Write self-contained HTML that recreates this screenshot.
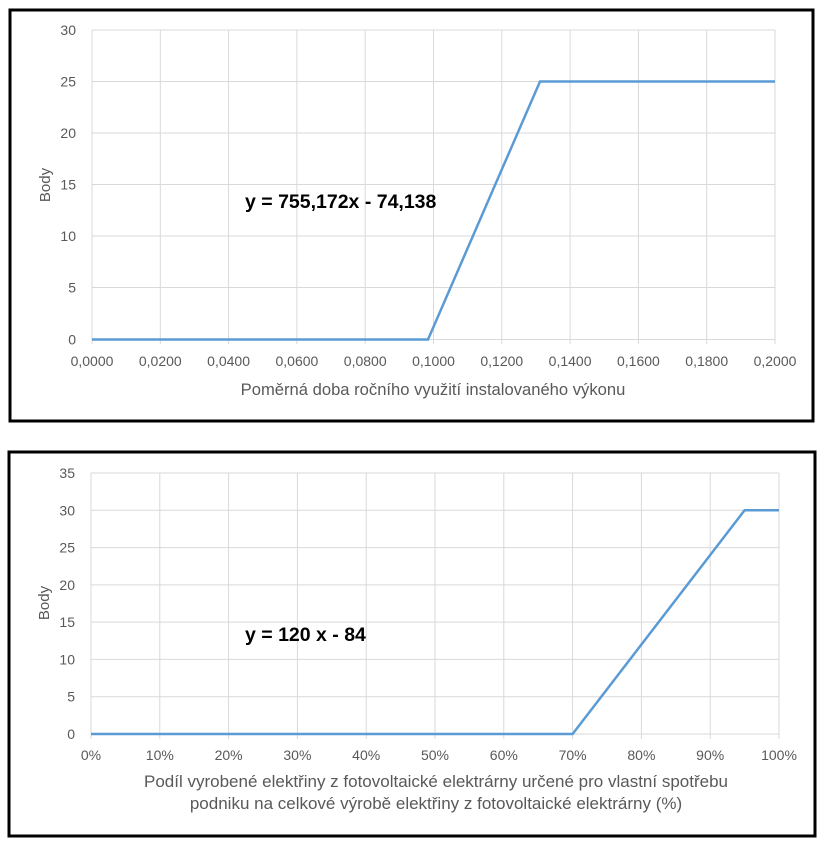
<!DOCTYPE html>
<html><head><meta charset="utf-8"><style>
body{margin:0;background:#fff;}
svg{display:block;font-family:"Liberation Sans",sans-serif;}
</style></head><body>
<svg width="822" height="843" viewBox="0 0 822 843">
<rect x="0" y="0" width="822" height="843" fill="#fff"/>
<rect x="10" y="10" width="803" height="411" fill="none" stroke="#000" stroke-width="3"/>
<rect x="9" y="452" width="806" height="384" fill="none" stroke="#000" stroke-width="3"/>
<g stroke="#d9d9d9" stroke-width="1" fill="none">
<path d="M92 30H775M92 81.5H775M92 133H775M92 184.5H775M92 236H775M92 287.5H775"/>
<path d="M92 30V344M160.3 30V344M228.6 30V344M296.9 30V344M365.2 30V344M433.5 30V344M501.8 30V344M570.1 30V344M638.4 30V344M706.7 30V344M775 30V344"/>
<path d="M92 339.5H775"/>
<path d="M91 473H779M91 510.3H779M91 547.6H779M91 584.9H779M91 622.1H779M91 659.4H779M91 696.7H779M91 734H779"/>
<path d="M91 473V739M159.8 473V739M228.6 473V739M297.4 473V739M366.2 473V739M435 473V739M503.8 473V739M572.6 473V739M641.4 473V739M710.2 473V739M779 473V739"/>
</g>
<polyline points="92,339.5 428,339.5 540,81.5 775,81.5" fill="none" stroke="#5b9bd5" stroke-width="2.5"/>
<polyline points="91,734 572.6,734 744.6,510.3 779,510.3" fill="none" stroke="#5b9bd5" stroke-width="2.5"/>
<g font-size="14" fill="#595959" text-anchor="end">
<text x="76" y="35">30</text><text x="76" y="86.5">25</text><text x="76" y="138">20</text><text x="76" y="189.5">15</text><text x="76" y="241">10</text><text x="76" y="292.5">5</text><text x="76" y="344.5">0</text>
<text x="75" y="478">35</text><text x="75" y="515.3">30</text><text x="75" y="552.6">25</text><text x="75" y="589.9">20</text><text x="75" y="627.1">15</text><text x="75" y="664.4">10</text><text x="75" y="701.7">5</text><text x="75" y="739">0</text>
</g>
<g font-size="14" fill="#595959" text-anchor="middle">
<text x="92" y="366">0,0000</text><text x="160.3" y="366">0,0200</text><text x="228.6" y="366">0,0400</text><text x="296.9" y="366">0,0600</text><text x="365.2" y="366">0,0800</text><text x="433.5" y="366">0,1000</text><text x="501.8" y="366">0,1200</text><text x="570.1" y="366">0,1400</text><text x="638.4" y="366">0,1600</text><text x="706.7" y="366">0,1800</text><text x="775" y="366">0,2000</text>
<text x="433" y="395" font-size="16.6">Poměrná doba ročního využití instalovaného výkonu</text>
<text x="91" y="760">0%</text><text x="159.8" y="760">10%</text><text x="228.6" y="760">20%</text><text x="297.4" y="760">30%</text><text x="366.2" y="760">40%</text><text x="435" y="760">50%</text><text x="503.8" y="760">60%</text><text x="572.6" y="760">70%</text><text x="641.4" y="760">80%</text><text x="710.2" y="760">90%</text><text x="779" y="760">100%</text>
<text x="436" y="787" font-size="17">Podíl vyrobené elektřiny z fotovoltaické elektrárny určené pro vlastní spotřebu</text>
<text x="436" y="809" font-size="17">podniku na celkové výrobě elektřiny z fotovoltaické elektrárny (%)</text>
<text transform="translate(50,185) rotate(-90)" font-size="15">Body</text>
<text transform="translate(49,603) rotate(-90)" font-size="15">Body</text>
</g>
<text x="245" y="208" font-size="19.5" font-weight="bold" fill="#000">y = 755,172x - 74,138</text>
<text x="245" y="641" font-size="19.5" font-weight="bold" fill="#000">y = 120 x - 84</text>
</svg>
</body></html>
